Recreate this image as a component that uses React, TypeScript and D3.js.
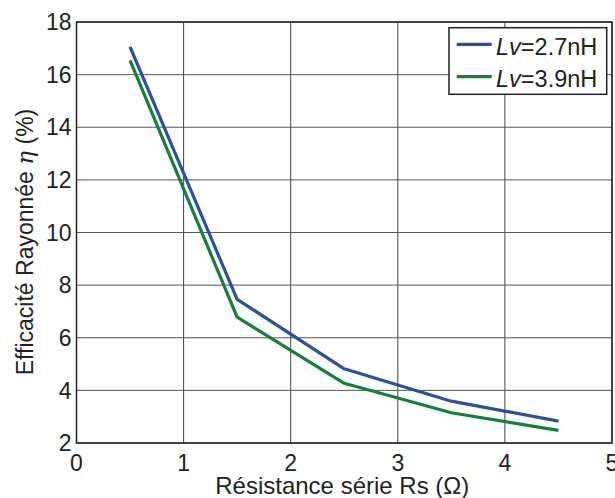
import React from "react";
import * as d3 from "d3";

const rsValues = [0.5, 1.5, 2.5, 3.5, 4.5];
const eta27 = [17.05, 7.46, 4.82, 3.59, 2.83];
const eta39 = [16.54, 6.78, 4.27, 3.15, 2.48];
const xTicks = [0, 1, 2, 3, 4, 5];
const yTicks = [2, 4, 6, 8, 10, 12, 14, 16, 18];
const seriesNames = ["2.7nH", "3.9nH"];
const seriesColors = ["#2b4fa3", "#10803d"];

const W = 615;
const H = 498;
const left = 76.5;
const right = 612;
const top = 22;
const bottom = 443;
const FONT = "'Liberation Sans', Arial, Helvetica, sans-serif";

export default function App() {
  const x = d3.scaleLinear().domain([0, 5]).range([left, right]);
  const y = d3.scaleLinear().domain([2, 18]).range([bottom, top]);
  const line = d3
    .line<[number, number]>()
    .x((d) => x(d[0]))
    .y((d) => y(d[1]));
  const series = [eta27, eta39];

  return (
    <svg
      width={W}
      height={H}
      style={{ position: "fixed", left: 0, top: 0, background: "#fff" }}
      fontFamily={FONT}
    >
      <rect x={0} y={0} width={W} height={H} fill="#fff" />
      {/* grid */}
      {xTicks.map((t) => (
        <line key={"gx" + t} x1={x(t)} x2={x(t)} y1={top} y2={bottom} stroke="#444" strokeWidth={1} />
      ))}
      {yTicks.map((t) => (
        <line key={"gy" + t} x1={left} x2={right} y1={y(t)} y2={y(t)} stroke="#555" strokeWidth={1} />
      ))}
      {/* series */}
      {series.map((s, i) => (
        <path
          key={"s" + i}
          d={line(rsValues.map((r, j) => [r, s[j]] as [number, number])) || ""}
          fill="none"
          stroke={seriesColors[i]}
          strokeWidth={3.2}
          strokeLinejoin="round"
        />
      ))}
      {/* frame */}
      <rect x={left} y={top} width={right - left} height={bottom - top} fill="none" stroke="#222" strokeWidth={1.5} />
      {/* tick labels */}
      {xTicks.map((t) => (
        <text key={"tx" + t} x={x(t)} y={470.5} textAnchor="middle" fontSize={23} fill="#222">
          {t}
        </text>
      ))}
      {yTicks.map((t) => (
        <text key={"ty" + t} x={71.5} y={y(t) + 8.2} textAnchor="end" fontSize={23} fill="#222">
          {t}
        </text>
      ))}
      {/* axis labels */}
      <text x={(left + right) / 2 - 2} y={494} textAnchor="middle" fontSize={24} fill="#222">
        Résistance série Rs (Ω)
      </text>
      <text
        transform={`translate(32.5, 242) rotate(-90)`}
        textAnchor="middle"
        fontSize={23}
        fill="#222"
      >
        Efficacité Rayonnée <tspan fontStyle="italic" fontFamily="'DejaVu Serif', serif">η</tspan> (%)
      </text>
      {/* legend */}
      <rect x={449} y={27.7} width={157.7} height={66.6} fill="#fff" stroke="#222" strokeWidth={1.5} />
      {seriesNames.map((n, i) => (
        <g key={"lg" + i}>
          <line
            x1={456.7}
            x2={491.7}
            y1={44.3 + i * 32.4}
            y2={44.3 + i * 32.4}
            stroke={seriesColors[i]}
            strokeWidth={3.2}
          />
          <text x={496} y={55 + i * 31.7} fontSize={23.5} fill="#222">
            <tspan fontStyle="italic">Lv</tspan>={n}
          </text>
        </g>
      ))}
    </svg>
  );
}
